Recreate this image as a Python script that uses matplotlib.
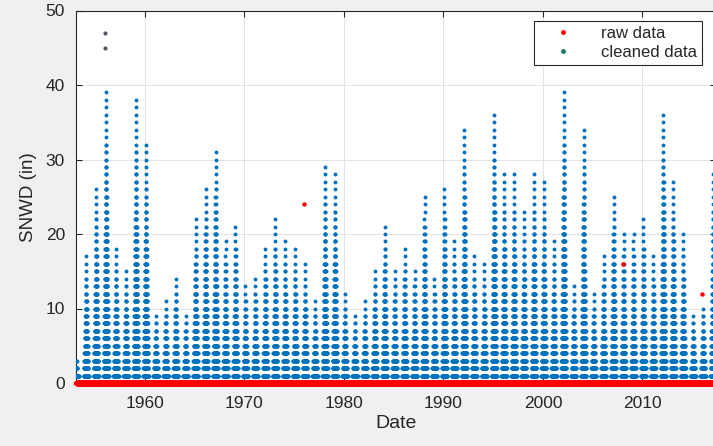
import numpy as np
import matplotlib
matplotlib.use('Agg')
import matplotlib.pyplot as plt
from matplotlib.lines import Line2D

plt.rcParams['font.family'] = ['Liberation Sans', 'DejaVu Sans']

# winter (Jan-Mar year) and the highest cleaned snow depth read for it, inches
winters = list(range(1953, 2018))
peak_in = [3, 17, 26, 39, 18, 15, 38, 32, 9, 11,
           14, 9, 22, 26, 31, 19, 21, 13, 14, 18,
           22, 19, 18, 16, 11, 29, 28, 12, 9, 11,
           15, 21, 15, 18, 15, 25, 14, 26, 19, 34,
           17, 16, 36, 28, 28, 23, 28, 27, 19, 39,
           13, 34, 12, 17, 25, 20, 20, 22, 17, 36,
           27, 20, 9, 10, 28]

# raw points dropped by the cleaning
raw_red_dates = [1976.0, 2008.0, 2016.0]
raw_red_vals = [24, 16, 12]
raw_gray_dates = [1956.0, 1956.0]
raw_gray_vals = [47, 45]

x_ticks = [1960, 1970, 1980, 1990, 2000, 2010]
y_ticks = [0, 10, 20, 30, 40, 50]

blue = '#0072BD'
red = '#FF0000'
ink = '#262626'

# dot stacks: every inch level a winter went through, narrower near the peak
cx, cy = [], []
for yr, pk in zip(winters, peak_in):
    centre = yr + 0.1
    for lvl in range(1, pk + 1):
        hw = 0.27 * (1 - (lvl - 1) / pk) ** 2
        days = np.arange(centre - hw, centre + hw + 1e-9, 7 / 365.0)
        if len(days) == 0:
            days = np.array([centre])
        cx.extend(days)
        cy.extend([lvl] * len(days))

zero_dates = np.arange(1953.12, 2017.5, 2 / 365.0)

fig = plt.figure(figsize=(7.13, 4.46), dpi=100, facecolor='#f0f0f0')
ax = fig.add_axes([76 / 713, 63 / 446, 640 / 713, 372.5 / 446])
ax.set_facecolor('white')

ax.plot(cx, cy, 'o', color=blue, markersize=2.8, markeredgewidth=0, zorder=3)
ax.plot(zero_dates, np.zeros_like(zero_dates), 'o', color=red, markersize=3.8,
        markeredgewidth=0, zorder=4, clip_on=False)
ax.plot(raw_red_dates, raw_red_vals, 'o', color=red, markersize=3.2,
        markeredgewidth=0, zorder=5)
ax.plot(raw_gray_dates, raw_gray_vals, 'o', color='#505a64', markersize=3.0,
        markeredgewidth=0, zorder=5)

ax.set_xlim(1953.07, 2017.39)
ax.set_ylim(0, 50)
ax.set_xticks(x_ticks)
ax.set_yticks(y_ticks)
ax.set_xticklabels([str(t) for t in x_ticks])
ax.tick_params(direction='in', top=True, right=True, length=4, width=0.8,
               colors=ink, labelsize=12.5)
ax.tick_params(axis='x', pad=9)
ax.tick_params(axis='y', pad=8)
ax.grid(True, color='#e3e3e3', linewidth=0.7)
ax.set_axisbelow(True)
for s in ax.spines.values():
    s.set_color(ink)
    s.set_linewidth(0.8)

ax.set_xlabel('Date', fontsize=14, color=ink, labelpad=3)
ax.set_ylabel('SNWD (in)', fontsize=13.5, color=ink, labelpad=6)

handles = [Line2D([], [], linestyle='none', marker='o', markersize=2.5, color=red),
           Line2D([], [], linestyle='none', marker='o', markersize=2.5, color='#1f7a6a')]
leg = fig.legend(handles, ['raw data', 'cleaned data'], loc='upper right',
                 bbox_to_anchor=(702 / 713, 425 / 446), fontsize=12,
                 fancybox=False, framealpha=1, edgecolor=ink,
                 borderpad=0.3, handletextpad=0.9, handlelength=2.8,
                 labelspacing=0.25, borderaxespad=0)
leg.get_frame().set_linewidth(0.8)
for t in leg.get_texts():
    t.set_color(ink)

fig.savefig('out.png', dpi=100, facecolor=fig.get_facecolor())
